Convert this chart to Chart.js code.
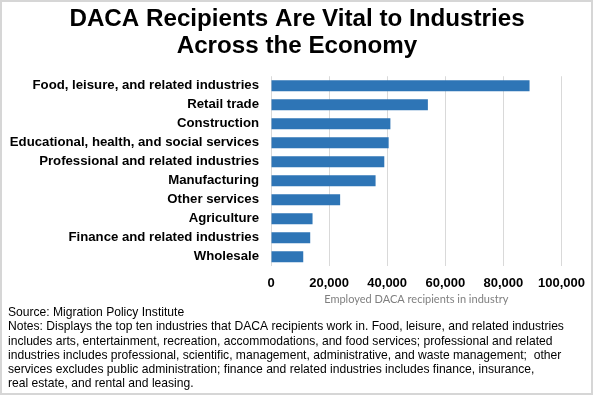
<!DOCTYPE html>
<html>
<head>
<meta charset="utf-8">
<script src="https://cdn.jsdelivr.net/npm/chart.js@4.4.1/dist/chart.umd.min.js"></script>
<style>
html,body{margin:0;padding:0;background:#fff;}
#wrap{position:relative;width:594px;height:396px;}
canvas{display:block;}
</style>
</head>
<body>
<div id="wrap"><canvas id="c" width="594" height="396"></canvas></div>
<script>
const titleLines = ["DACA Recipients Are Vital to Industries", "Across the Economy"];
const categories = [
  "Food, leisure, and related industries",
  "Retail trade",
  "Construction",
  "Educational, health, and social services",
  "Professional and related industries",
  "Manufacturing",
  "Other services",
  "Agriculture",
  "Finance and related industries",
  "Wholesale"
];
const employed = [89000, 54000, 41100, 40500, 39000, 36000, 23800, 14300, 13500, 11100];
const xTicks = [0, 20000, 40000, 60000, 80000, 100000];
const xAxisTitle = "Employed DACA recipients in industry";
const noteLines = [
  "Source: Migration Policy Institute",
  "Notes: Displays the top ten industries that DACA recipients work in. Food, leisure, and related industries",
  "includes arts, entertainment, recreation, accommodations, and food services; professional and related",
  "industries includes professional, scientific, management, administrative, and waste management;  other",
  "services excludes public administration; finance and related industries includes finance, insurance,",
  "real estate, and rental and leasing."
];

const notesPlugin = {
  id: 'notes',
  afterDraw(chart) {
    const ctx = chart.ctx;
    ctx.save();
    ctx.strokeStyle = '#d6d6d6';
    ctx.lineWidth = 2;
    ctx.strokeRect(1, 1, 591, 393);
    ctx.fillStyle = '#000';
    ctx.font = '12.1px "Liberation Sans", Arial, sans-serif';
    ctx.textBaseline = 'middle';
    ctx.textAlign = 'left';
    noteLines.forEach((t, i) => {
      ctx.fillText(t, 8, 313 + i * 14.1);
    });
    ctx.restore();
  }
};

new Chart(document.getElementById('c'), {
  type: 'bar',
  data: {
    labels: categories,
    datasets: [{
      data: employed,
      backgroundColor: '#2E75B6',
      borderWidth: 0,
      barPercentage: 0.58,
      categoryPercentage: 1.0
    }]
  },
  options: {
    indexAxis: 'y',
    responsive: false,
    animation: false,
    devicePixelRatio: 1,
    layout: { padding: { top: 0, right: 0, bottom: 90, left: 0 } },
    plugins: {
      legend: { display: false },
      tooltip: { enabled: false },
      title: {
        display: true,
        text: titleLines,
        color: '#000',
        font: { family: '"Liberation Sans", Arial, sans-serif', size: 24.2, weight: 'bold', lineHeight: 1.1 },
        padding: { top: 6, bottom: 17 }
      }
    },
    scales: {
      x: {
        min: 0,
        max: 100000,
        afterBuildTicks(scale) { scale.ticks = xTicks.map(v => ({ value: v })); },
        grid: { color: '#d9d9d9', drawTicks: false, lineWidth: 1 },
        border: { display: false },
        ticks: {
          color: '#000',
          padding: 9,
          maxRotation: 0,
          font: { family: '"Liberation Sans", Arial, sans-serif', size: 13, weight: 'bold' },
          callback: (v) => Number(v).toLocaleString('en-US')
        },
        title: {
          display: true,
          text: xAxisTitle,
          color: '#7f7f7f',
          font: { family: 'Lato, "Open Sans", sans-serif', size: 11 },
          padding: { top: -7, bottom: 0 }
        }
      },
      y: {
        grid: { display: false, drawTicks: false },
        border: { display: false },
        afterFit(scale) { scale.width = 271; },
        ticks: {
          color: '#000',
          padding: 12,
          autoSkip: false,
          font: { family: '"Liberation Sans", Arial, sans-serif', size: 13.2, weight: 'bold' }
        }
      },
      yRight: {
        type: 'linear',
        position: 'right',
        display: true,
        grid: { display: false, drawTicks: false },
        border: { display: false },
        ticks: { display: false },
        afterFit(scale) { scale.width = 31.7; }
      }
    }
  },
  plugins: [notesPlugin]
});
</script>
</body>
</html>
